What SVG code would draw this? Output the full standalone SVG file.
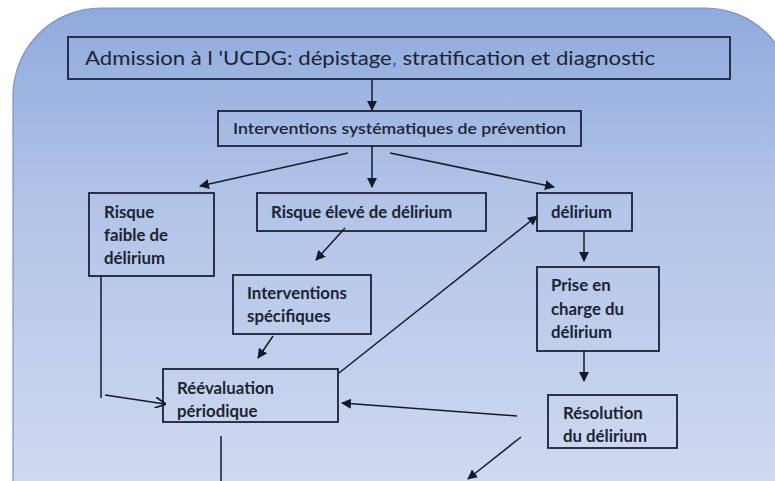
<svg xmlns="http://www.w3.org/2000/svg" width="775" height="481" viewBox="0 0 775 481">
<defs>
<linearGradient id="bg" x1="0" y1="0" x2="0" y2="1">
<stop offset="0" stop-color="#90aadd"/>
<stop offset="0.35" stop-color="#b2c4e8"/>
<stop offset="1" stop-color="#d8e0f3"/>
</linearGradient>
<marker id="ah" viewBox="0 0 10 10" refX="9" refY="5" markerWidth="10" markerHeight="10" markerUnits="userSpaceOnUse" orient="auto">
<path d="M0,0 L10,5 L0,10 z" fill="#151a2a"/>
</marker>
<marker id="oh" viewBox="0 0 10 10" refX="9" refY="5" markerWidth="11" markerHeight="11" markerUnits="userSpaceOnUse" orient="auto">
<path d="M0,0 L10,5 L0,10" fill="none" stroke="#151a2a" stroke-width="1.6"/>
</marker>
</defs>
<style>
.box{fill:none;stroke:#1a2238;stroke-width:1.8}
.t{font-family:Lato,"Liberation Sans",sans-serif;fill:#1c2333;font-weight:bold;font-size:16.8px}
.big{font-family:Lato,"Liberation Sans",sans-serif;fill:#1c2333;font-size:19px}
.c{fill:none;stroke:#151a2a;stroke-width:1.5}
</style>
<rect x="0" y="0" width="775" height="481" fill="#ffffff"/>
<rect x="13" y="8" width="780" height="560" rx="88" ry="88" fill="url(#bg)" stroke="#7f92b4" stroke-width="1.2"/>

<g id="admission">
<rect class="box" x="68" y="37" width="662" height="42"/>
<text class="big" x="85" y="65" textLength="570" lengthAdjust="spacingAndGlyphs">Admission à l 'UCDG: dépistage<tspan fill="#3a5fcd">,</tspan> stratification et diagnostic</text>
</g>
<g id="prevention">
<rect class="box" x="218" y="111" width="363" height="35"/>
<text class="t" x="233" y="134" textLength="333" lengthAdjust="spacingAndGlyphs" style="font-weight:600;font-size:15.5px">Interventions systématiques de prévention</text>
</g>
<g id="risque-faible">
<rect class="box" x="89" y="193" width="125" height="83"/>
<text class="t" x="104" y="218">Risque</text>
<text class="t" x="104" y="241">faible de</text>
<text class="t" x="104" y="264">délirium</text>
</g>
<g id="risque-eleve">
<rect class="box" x="257" y="193" width="229" height="38"/>
<text class="t" x="271" y="218">Risque élevé de délirium</text>
</g>
<g id="delirium">
<rect class="box" x="537" y="193" width="95" height="38"/>
<text class="t" x="551" y="218">délirium</text>
</g>
<g id="interventions-specifiques">
<rect class="box" x="233" y="275" width="138" height="59"/>
<text class="t" x="247" y="299">Interventions</text>
<text class="t" x="247" y="322">spécifiques</text>
</g>
<g id="prise-en-charge">
<rect class="box" x="537" y="267" width="122" height="84"/>
<text class="t" x="551" y="291">Prise en</text>
<text class="t" x="551" y="315">charge du</text>
<text class="t" x="551" y="338">délirium</text>
</g>
<g id="reevaluation">
<rect class="box" x="163" y="369" width="175" height="53"/>
<text class="t" x="177" y="394">Réévaluation</text>
<text class="t" x="177" y="417">périodique</text>
</g>
<g id="resolution">
<rect class="box" x="548" y="395" width="129" height="53"/>
<text class="t" x="563" y="419">Résolution</text>
<text class="t" x="563" y="442">du délirium</text>
</g>

<g id="connectors">
<line class="c" x1="372" y1="80" x2="372" y2="110" marker-end="url(#ah)"/>
<line class="c" x1="372" y1="146" x2="372" y2="187" marker-end="url(#ah)"/>
<line class="c" x1="348" y1="153" x2="200" y2="186" marker-end="url(#ah)"/>
<line class="c" x1="390" y1="153" x2="554" y2="187" marker-end="url(#ah)"/>
<line class="c" x1="345" y1="228" x2="316" y2="260" marker-end="url(#ah)"/>
<line class="c" x1="584" y1="231" x2="584" y2="261" marker-end="url(#ah)"/>
<line class="c" x1="584" y1="351" x2="584" y2="381" marker-end="url(#ah)"/>
<line class="c" x1="273" y1="336" x2="258" y2="358" marker-end="url(#ah)"/>
<line class="c" x1="101" y1="276" x2="101" y2="398"/>
<line class="c" x1="105" y1="395" x2="165" y2="404" marker-end="url(#oh)"/>
<line class="c" x1="339" y1="373" x2="537" y2="216" marker-end="url(#ah)"/>
<line class="c" x1="517" y1="416" x2="342" y2="403" marker-end="url(#ah)"/>
<line class="c" x1="521" y1="437" x2="468" y2="479" marker-end="url(#ah)"/>
<line class="c" x1="221" y1="436" x2="221" y2="481"/>
</g>
</svg>
